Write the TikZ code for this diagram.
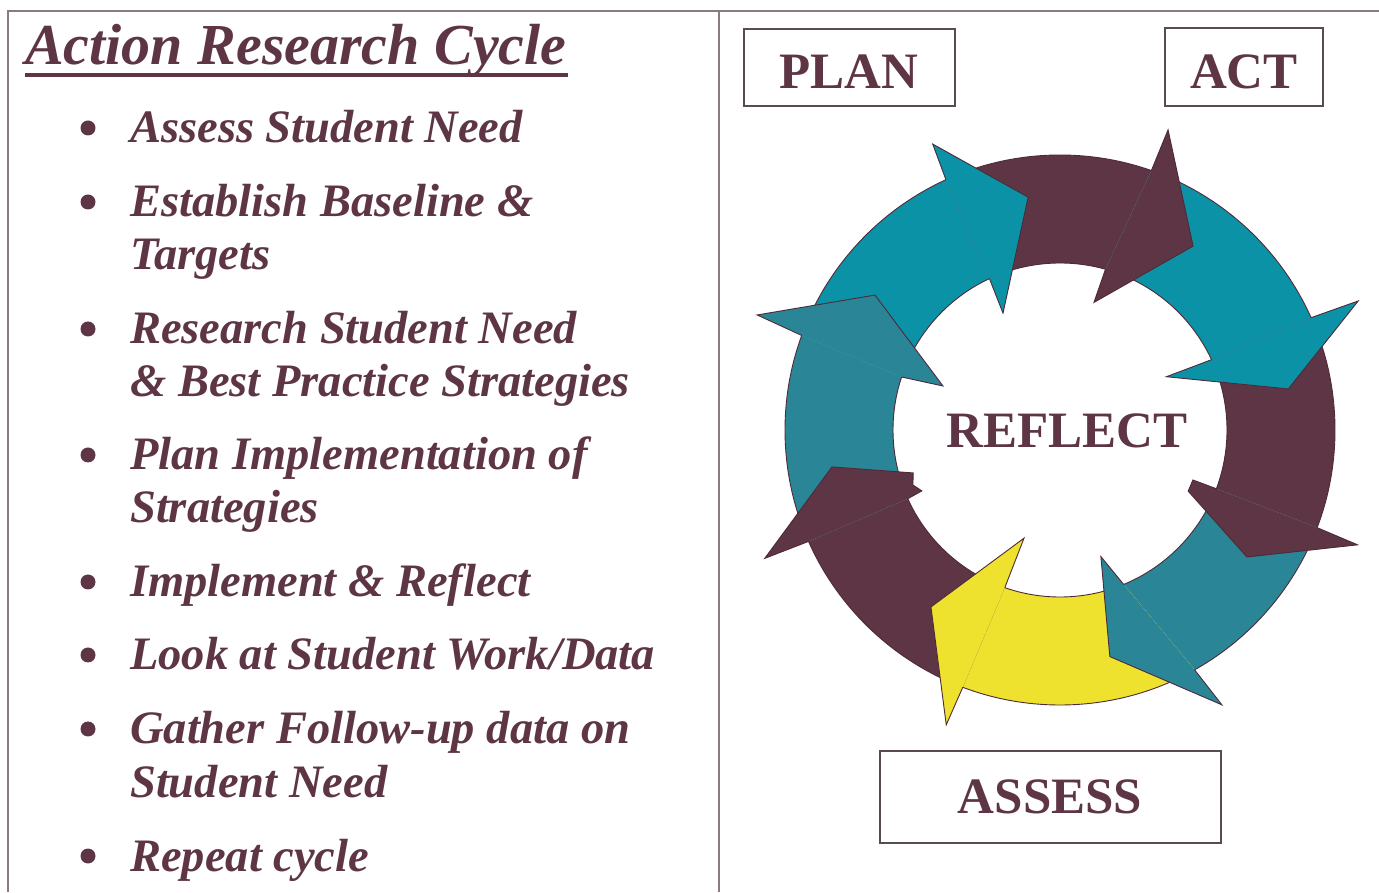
\documentclass[tikz,border=0pt]{standalone}
\usepackage{fontspec}
\setmainfont{Liberation Serif}
\definecolor{arMaroon}{HTML}{5E3545}
\definecolor{arTeal}{HTML}{0C92A6}
\definecolor{arTealT}{HTML}{2A8696}
\definecolor{arYellow}{HTML}{EEE22E}
\definecolor{arEdge}{HTML}{4E2A38}
\definecolor{frameC}{HTML}{8A7A82}
\definecolor{boxC}{HTML}{5A4A52}
\begin{document}
\begin{tikzpicture}[x=1pt,y=1pt,
  frame/.style={draw=frameC, line width=1.6pt},
  item/.style={anchor=base west, inner sep=0pt, text=arMaroon,
    font=\fontsize{46.5}{50}\selectfont\bfseries\itshape},
  bul/.style={circle, fill=arMaroon, inner sep=0pt, minimum size=15pt},
  lbl/.style={anchor=base, inner sep=0pt, text=arMaroon,
    font=\fontsize{51}{54}\selectfont\bfseries},
  lblbox/.style={draw=boxC, line width=1.3pt, inner sep=0pt},
  edge/.style={draw=arEdge, line width=0.9pt, line join=miter}]
\useasboundingbox (0,0) rectangle (1379,892);
% frame
\draw[frame] (8,0) -- (8,881) -- (1379,881);
\draw[frame] (719,0) -- (719,881);
% title
\node[anchor=base west, inner sep=0pt, text=arMaroon,
  font=\fontsize{58}{60}\selectfont\bfseries\itshape] (title) at (25,827) {Action Research Cycle};
\draw[arMaroon, line width=3.5pt] (25,817) -- (568,817);
% bullet list
\node[bul] (b1) at (88,764) {};
\node[item] (i1) at (130,749) {Assess Student Need};
\node[bul] (b2) at (88,690) {};
\node[item] (i2a) at (130,675) {Establish Baseline \&};
\node[item] (i2b) at (130,622) {Targets};
\node[bul] (b3) at (88,563) {};
\node[item] (i3a) at (130,548) {Research Student Need};
\node[item] (i3b) at (130,495) {\& Best Practice Strategies};
\node[bul] (b4) at (88,437) {};
\node[item] (i4a) at (130,422) {Plan Implementation of};
\node[item] (i4b) at (130,369) {Strategies};
\node[bul] (b5) at (88,310) {};
\node[item] (i5) at (130,295) {Implement \& Reflect};
\node[bul] (b6) at (88,237) {};
\node[item] (i6) at (130,222) {Look at Student Work/Data};
\node[bul] (b7) at (88,163) {};
\node[item] (i7a) at (130,148) {Gather Follow-up data on};
\node[item] (i7b) at (130,95) {Student Need};
\node[bul] (b8) at (88,36) {};
\node[item] (i8) at (130,21) {Repeat cycle};
% label boxes
\node[lblbox, minimum width=211pt, minimum height=77pt] (planbox) at (849.5,824.5) {};
\node[lbl] (plan) at (849,803) {PLAN};
\node[lblbox, minimum width=158pt, minimum height=78pt] (actbox) at (1244,825) {};
\node[lbl] (act) at (1244,803) {ACT};
\node[lblbox, minimum width=341pt, minimum height=92pt] (assessbox) at (1050.5,95) {};
\node[lbl] (assess) at (1050,79) {ASSESS};
% cycle
\begin{scope}[shift={(1060,462)}]
% bodies: previous notches (outer,inner) -> own notches (outer,inner)
\fill[arTeal]   (159.9:275) arc[start angle=159.9, end angle=114.5, radius=275] -- (115:167) arc[start angle=115, end angle=161.5, radius=167] -- cycle;
\fill[arMaroon] (114.5:275) arc[start angle=114.5, end angle=70.6, radius=275] -- (74.2:167) arc[start angle=74.2, end angle=115, radius=167] -- cycle;
\fill[arTeal]   (70.6:275) arc[start angle=70.6, end angle=24.1, radius=275] -- (24.9:167) arc[start angle=24.9, end angle=74.2, radius=167] -- cycle;
\fill[arMaroon] (24.1:275) arc[start angle=24.1, end angle=-20.8, radius=275] -- (-20.6:167) arc[start angle=-20.6, end angle=24.9, radius=167] -- cycle;
\fill[arTealT]  (-20.8:275) arc[start angle=-20.8, end angle=-60.7, radius=275] -- (-67.6:167) arc[start angle=-67.6, end angle=-20.6, radius=167] -- cycle;
\fill[arYellow] (-60.7:275) arc[start angle=-60.7, end angle=-110.7, radius=275] -- (-109.3:167) arc[start angle=-109.3, end angle=-67.6, radius=167] -- cycle;
\fill[arMaroon] (-110.7:275) arc[start angle=-110.7, end angle=-156.1, radius=275] -- (-155.7:167) arc[start angle=-155.7, end angle=-109.3, radius=167] -- cycle;
\fill[arTealT]  (-156.1:275) arc[start angle=-156.1, end angle=-200.1, radius=275] -- (-198.5:167) arc[start angle=-198.5, end angle=-155.7, radius=167] -- cycle;
\draw[edge] (0,0) circle[radius=275];
\draw[edge] (0,0) circle[radius=167];
% heads: notch_o -- wing_o -- tip -- wing_i -- notch_i
\fill[arTeal] (114.5:275) -- (114:313) -- (97.8:235) -- (116:130) -- (115:167) -- cycle;
\draw[edge] (114.5:275) -- (114:313) -- (97.8:235) -- (116:130) -- (115:167);
\fill[arMaroon] (70.6:275) -- (70.2:319) -- (54.1:227) -- (75.1:132) -- (74.2:167) -- cycle;
\draw[edge] (70.6:275) -- (70.2:319) -- (54.1:227) -- (75.1:132) -- (74.2:167);
\fill[arTeal] (24.1:275) -- (23.4:325) -- (10.2:232) -- (26.6:119) -- (24.9:167) -- cycle;
\draw[edge] (24.1:275) -- (23.4:325) -- (10.2:232) -- (26.6:119) -- (24.9:167);
\fill[arMaroon] (-20.8:275) -- (-21.1:319) -- (-34.2:226) -- (-25.5:142) -- (-20.6:142) -- (-20.6:167) -- cycle;
\draw[edge] (-20.8:275) -- (-21.1:319) -- (-34.2:226) -- (-25.5:142) -- (-20.6:142) -- (-20.6:167);
\fill[arTealT] (-60.7:275) -- (-59.5:319) -- (-77.6:232) -- (-72.1:133) -- (-67.6:167) -- cycle;
\draw[edge] (-60.7:275) -- (-59.5:319) -- (-77.6:232) -- (-72.1:133) -- (-67.6:167);
\fill[arYellow] (-110.7:275) -- (-111.1:316) -- (-126.1:219) -- (-108.4:114) -- (-109.3:167) -- cycle;
\draw[edge] (-110.7:275) -- (-111.1:316) -- (-126.1:219) -- (-108.4:114) -- (-109.3:167);
\fill[arMaroon] (203.9:275) -- (203.5:322) -- (189.2:231) -- (196.3:153) -- (200.5:157) -- (203.8:151) -- (204.3:167) -- cycle;
\draw[edge] (203.9:275) -- (203.5:322) -- (189.2:231) -- (196.3:153) -- (200.5:157) -- (203.8:151) -- (204.3:167);
\fill[arTealT] (159.9:275) -- (159.2:324) -- (143.9:229) -- (159.4:125) -- (161.5:167) -- cycle;
\draw[edge] (159.9:275) -- (159.2:324) -- (143.9:229) -- (159.4:125) -- (161.5:167);
\end{scope}
\node[lbl] (reflect) at (1067,444) {REFLECT};
\end{tikzpicture}
\end{document}
